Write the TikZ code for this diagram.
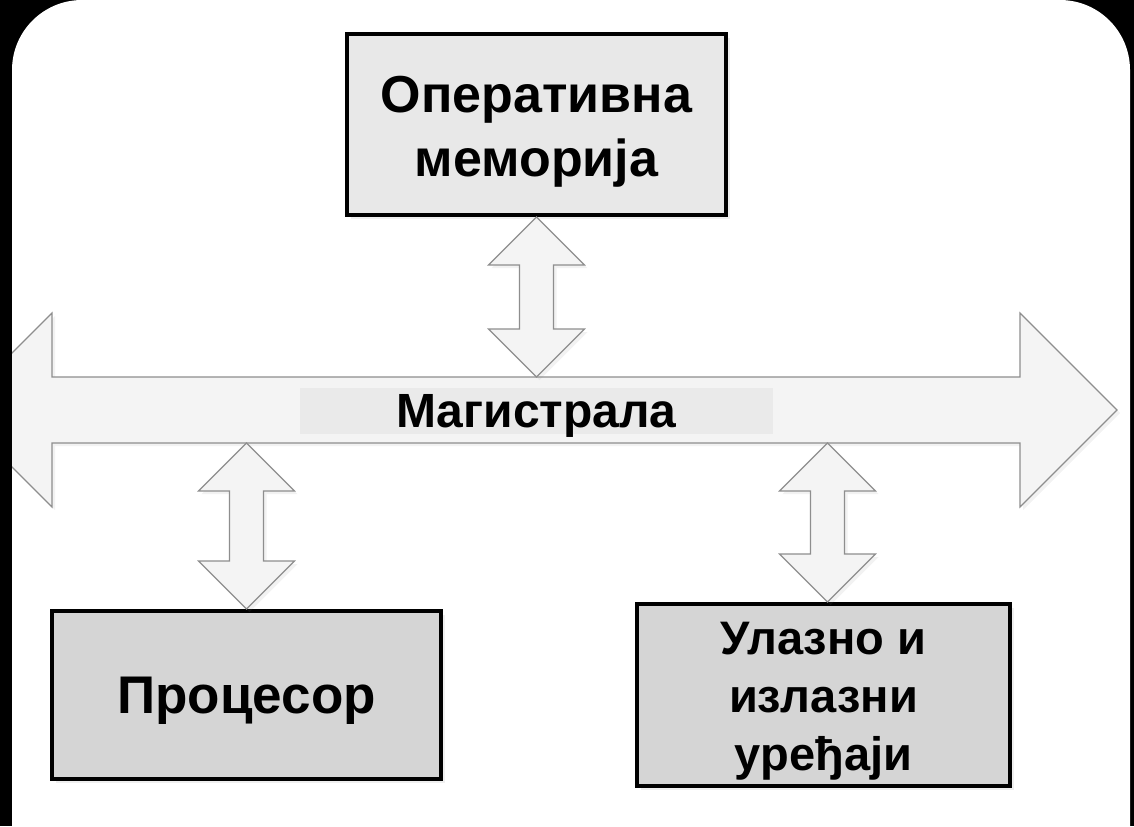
\documentclass[tikz,border=0pt]{standalone}
\usepackage{fontspec}
\setmainfont{Liberation Sans}
\usepackage{tikz}
\usetikzlibrary{calc,shadows}
\definecolor{busfill}{HTML}{F4F4F4}
\definecolor{busline}{HTML}{8E8E8E}
\definecolor{bandfill}{HTML}{EAEAEA}
\definecolor{memfill}{HTML}{E8E8E8}
\definecolor{unitfill}{HTML}{D5D5D5}
\tikzstyle{unit}=[draw=black,line width=2pt,inner sep=0pt,align=center,
  drop shadow={shadow xshift=2pt,shadow yshift=-2pt,opacity=0.12}]
\tikzstyle{link}=[fill=busfill,draw=busline,line width=0.6pt,
  drop shadow={shadow xshift=1.5pt,shadow yshift=-1.5pt,opacity=0.1}]
% two-headed vertical arrow, from top tip #1 to bottom tip #2
\newcommand{\updown}[2]{%
  \draw[link] (#1) -- ++(48,48) -- ++(-31,0) -- ($(#2)+(17,-48)$) -- ++(31,0)
    -- (#2) -- ++(-48,-48) -- ++(31,0) -- ($(#1)+(-17,48)$) -- ++(-31,0) -- cycle;}

\begin{document}
\begin{tikzpicture}[x=0.5pt,y=-0.5pt]
        \useasboundingbox (0,0) rectangle (1134,826);
        \fill[black] (0,0) rectangle (1134,826);
        \fill[white,rounded corners=35pt] (12,0) rectangle (1130,900);
        \begin{scope}
        \clip[rounded corners=35pt] (12,0) rectangle (1130,900);
        % bus
        \draw[link] (-45,410) -- (52,313) -- (52,377) -- (1020,377) -- (1020,313)
          -- (1117,410) -- (1020,507) -- (1020,443) -- (52,443) -- (52,507) -- cycle;
        \coordinate (bt) at (0,377);
        \coordinate (bb) at (0,443);
        \node[fill=bandfill,minimum width=236.5pt,minimum height=22pt,text depth=0pt,
          font=\bfseries\fontsize{24}{28}\selectfont] (bus) at (536.5,411) {Магистрала};
        % units
        \node[unit,fill=memfill,minimum width=189.5pt,minimum height=90.5pt,
          font=\bfseries\fontsize{26}{32}\selectfont] (mem) at (536.5,124.5)
          {\rule{0pt}{25pt}Оперативна\\меморија};
        \node[unit,fill=unitfill,minimum width=194.5pt,minimum height=84pt,text depth=0pt,
          font=\bfseries\fontsize{26.5}{32}\selectfont] (proc) at (246.5,695) {Процесор};
        \node[unit,fill=unitfill,minimum width=186.5pt,minimum height=91pt,
          font=\bfseries\fontsize{23.5}{29}\selectfont] (io) at (823.5,695)
          {\rule{0pt}{22pt}Улазно и\\излазни\\уређаји};
        \coordinate (iotop) at ($(io.north)+(4,0)$);
        \updown{mem.south}{mem.south |- bt}
        \updown{proc.north |- bb}{proc.north}
        \updown{iotop |- bb}{iotop}
        \end{scope}
      \end{tikzpicture}
\end{document}
